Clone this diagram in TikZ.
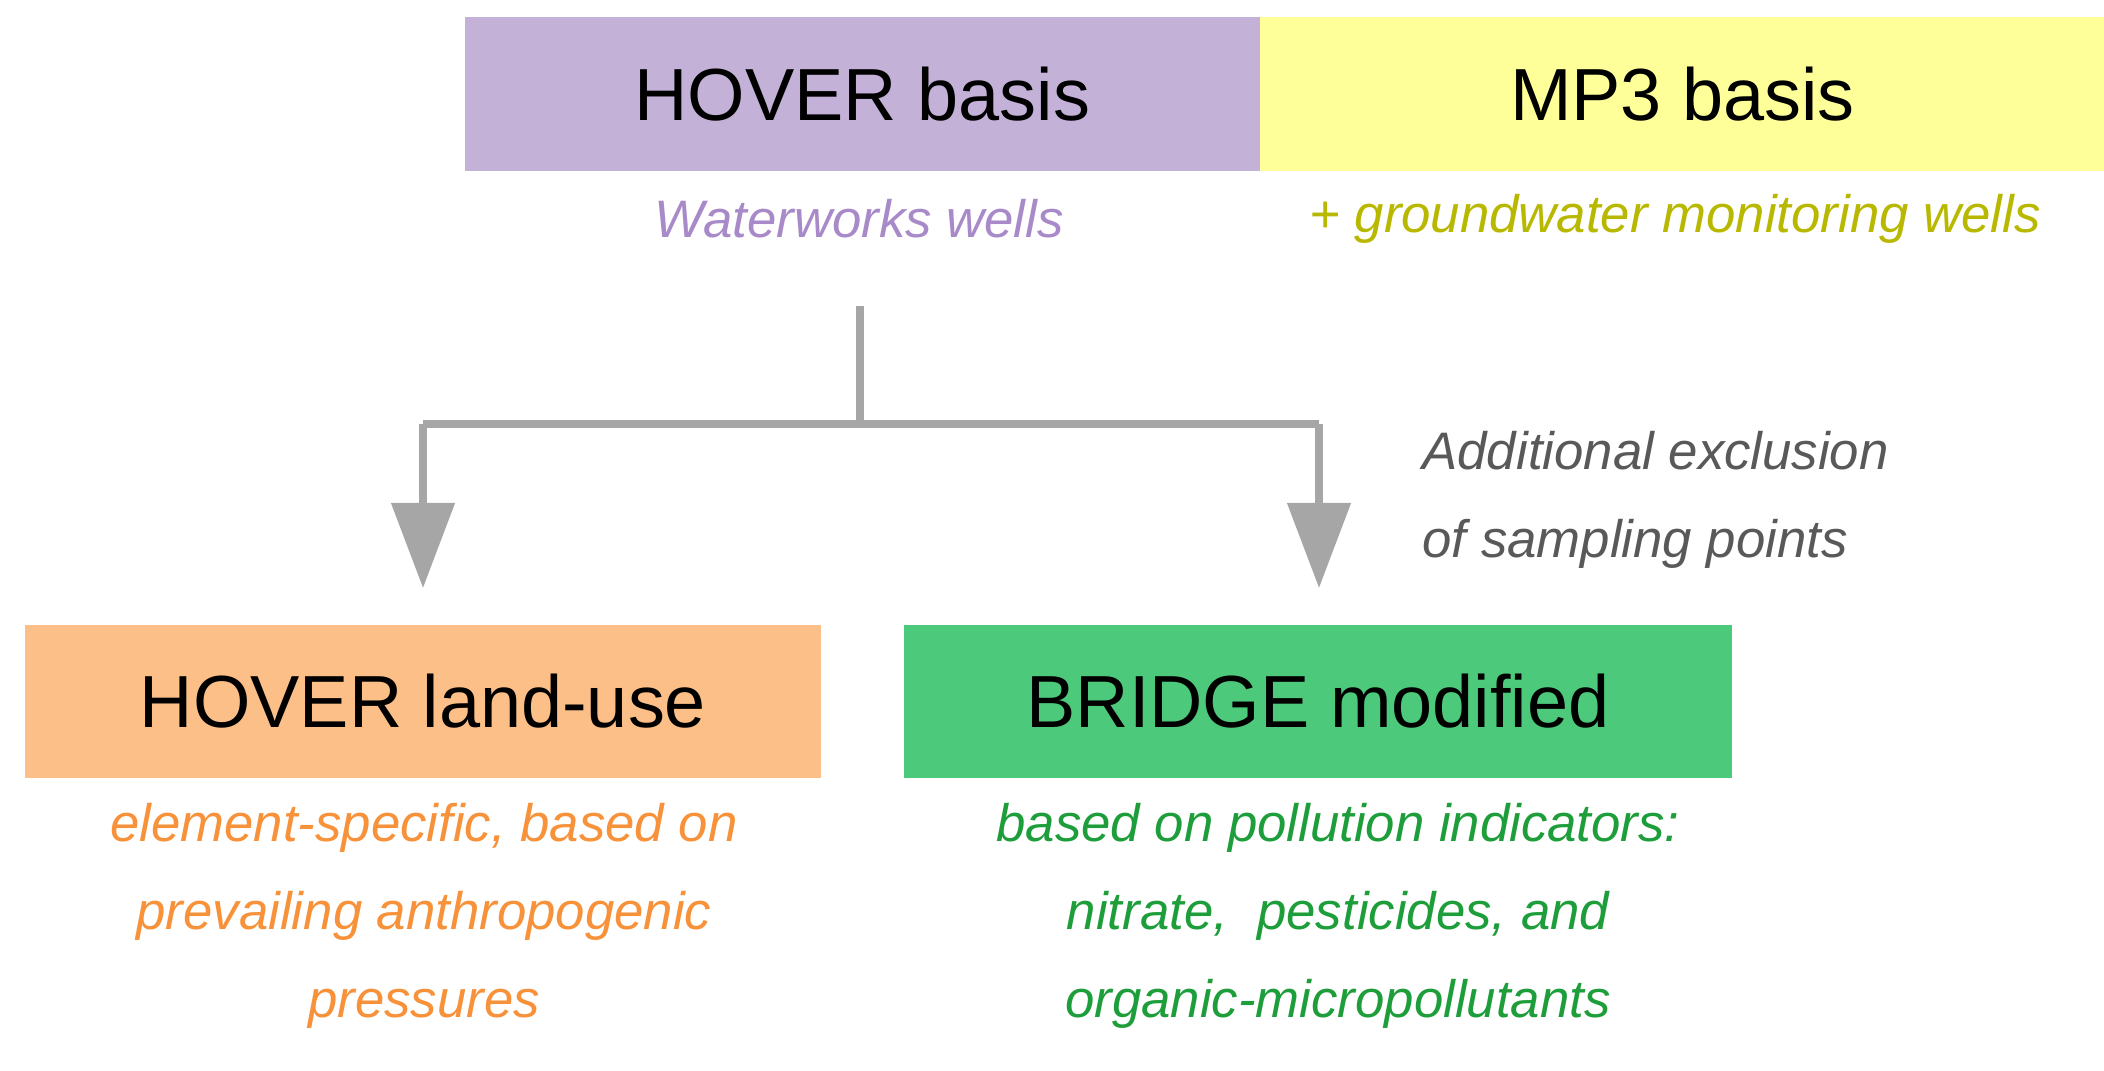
\documentclass[tikz,border=0pt]{standalone}
\usepackage{fontspec}
\setmainfont{Liberation Sans}
\usetikzlibrary{arrows.meta}
\definecolor{cpurp}{HTML}{C3B1D8}
\definecolor{cyell}{HTML}{FFFF99}
\definecolor{corg}{HTML}{FBBF87}
\definecolor{cgrn}{HTML}{4CC97A}
\definecolor{tpurp}{HTML}{A98AC8}
\definecolor{tyell}{HTML}{B8B800}
\definecolor{torg}{HTML}{F7923A}
\definecolor{tgrn}{HTML}{1E9E3A}
\definecolor{tgray}{HTML}{595959}
\definecolor{lgray}{HTML}{A6A6A6}
\begin{document}
\begin{tikzpicture}[x=0.01cm,y=-0.01cm,
  box/.style={draw=none,anchor=north west,inner sep=0pt,font=\fontsize{21}{25}\selectfont},
  sub/.style={font=\fontsize{15}{25}\selectfont\itshape,align=center},
  conn/.style={draw=lgray,line width=2.2pt},
  arr/.style={conn,-{Triangle[length=0.85cm,width=0.62cm]}}]
\useasboundingbox (0,0) rectangle (2104,1070);
\node[box,fill=cpurp,minimum width=7.95cm,minimum height=1.54cm] (hb) at (464,16) {};
\node at (hb.center) [font=\fontsize{21}{25}\selectfont] {HOVER basis};
\node[box,fill=cyell,minimum width=8.45cm,minimum height=1.54cm] (mb) at (1259,16) {};
\node at (mb.center) [font=\fontsize{21}{25}\selectfont] {MP3 basis};
\node[sub,text=tpurp] (ww) at (859,219) {Waterworks wells};
\node[sub,text=tyell] (gw) at (1675,219) {+ groundwater monitoring wells};
\node[box,fill=corg,minimum width=7.96cm,minimum height=1.53cm] (hl) at (24,624) {};
\node at (hl.center) [font=\fontsize{21}{25}\selectfont] {HOVER land-use};
\node[box,fill=cgrn,minimum width=8.28cm,minimum height=1.53cm] (br) at (903,624) {};
\node at (br.center) [font=\fontsize{21}{25}\selectfont] {BRIDGE modified};
\coordinate (top) at (860,306);
\coordinate (j) at (860,424);
\coordinate (l) at (423,424);
\coordinate (r) at (1319,424);
\coordinate (la) at (423,588);
\coordinate (ra) at (1319,588);
\draw[conn] (top) -- (j);
\draw[conn] (l) -- (r);
\draw[arr] (l) -- (la);
\draw[arr] (r) -- (ra);
\node[sub,text=tgray,align=left,anchor=west] (ae) at (1410,500) {Additional exclusion\\of sampling points};
\node[sub,text=torg] (ot) at (424,916) {element-specific, based on\\prevailing anthropogenic\\pressures};
\node[sub,text=tgrn] (gt) at (1338,916) {based on pollution indicators:\\nitrate,\ \ pesticides, and\\organic-micropollutants};
\end{tikzpicture}
\end{document}
